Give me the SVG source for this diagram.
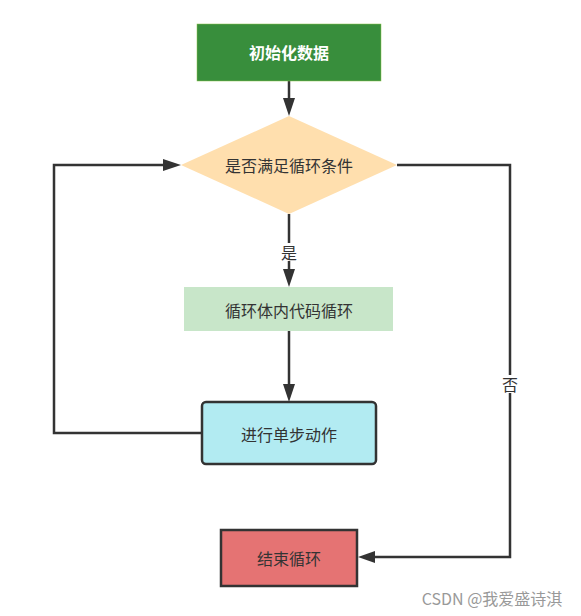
<svg xmlns="http://www.w3.org/2000/svg" width="581" height="616" viewBox="0 0 581 616">
<style>
text{font-family:"Noto Sans CJK SC","Liberation Sans",sans-serif;font-size:16px;text-anchor:middle;dominant-baseline:central;fill:#333}
.edge{fill:none;stroke:#333;stroke-width:2.5}
.lbl{fill:#fff}
.head{fill:#333}
</style>
<rect width="581" height="616" fill="#fff"/>
<g id="connectors">
<path class="edge" d="M289,81 V100"/>
<path class="head" d="M283,98 L289,116 L295,98 Z"/>
<path class="edge" d="M289,214 V270"/>
<path class="head" d="M283,269 L289,287 L295,269 Z"/>
<rect class="lbl" x="280" y="243" width="18" height="18"/>
<text x="289" y="252">是</text>
<path class="edge" d="M289,331 V386"/>
<path class="head" d="M283,384 L289,402 L295,384 Z"/>
<path class="edge" d="M202,433 H54 V165 H164"/>
<path class="head" d="M163,159 L181,165 L163,171 Z"/>
<path class="edge" d="M397,165 H510 V557 H374"/>
<path class="head" d="M375,551 L358,557 L375,563 Z"/>
<rect class="lbl" x="501" y="375" width="18" height="18"/>
<text x="510" y="384">否</text>
</g>
<g id="init">
<rect x="197" y="24" width="184" height="57" fill="#388e3c" stroke="#8bc34a" stroke-width="0.5"/>
<text x="289" y="52" style="fill:#fff;font-weight:bold">初始化数据</text>
</g>
<g id="cond">
<polygon points="289,116 397,165 289,214 181,165" fill="#ffdfae"/>
<text x="289" y="165">是否满足循环条件</text>
</g>
<g id="body">
<rect x="184" y="287" width="209" height="44" fill="#c8e6c9"/>
<text x="289" y="310">循环体内代码循环</text>
</g>
<g id="step">
<rect x="202" y="402" width="174" height="62" rx="4" fill="#b2ebf2" stroke="#333" stroke-width="2.5"/>
<text x="289" y="434">进行单步动作</text>
</g>
<g id="end">
<rect x="221" y="530" width="136" height="56" fill="#e57373" stroke="#333" stroke-width="2.5"/>
<text x="289" y="558">结束循环</text>
</g>
<text x="492" y="598" style="fill:#999;font-size:16px">CSDN @我爱盛诗淇</text>
</svg>
